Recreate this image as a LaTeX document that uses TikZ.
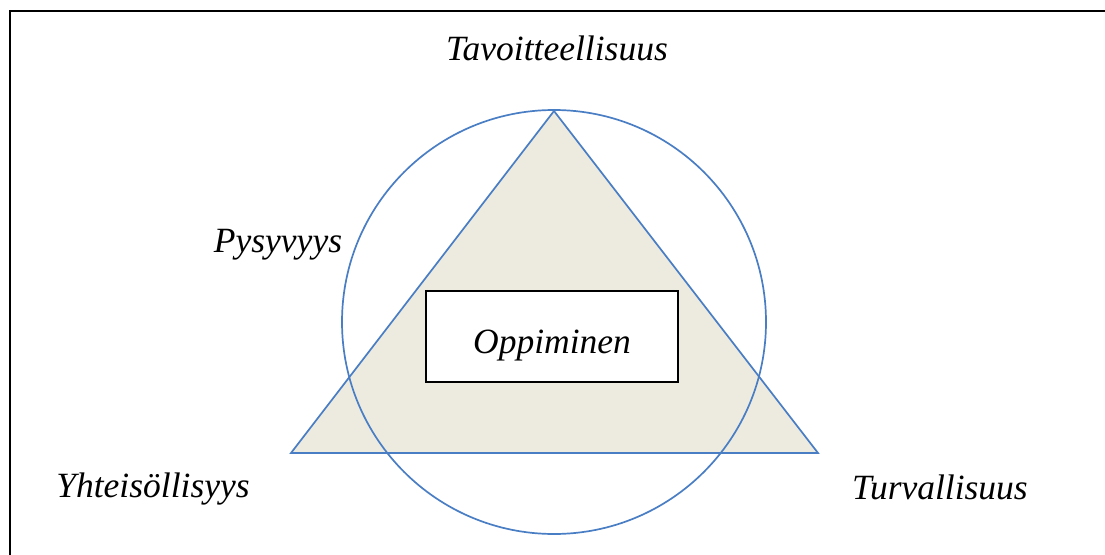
\documentclass[tikz,border=0pt]{standalone}
\usepackage{fontspec}
\setmainfont{Liberation Serif}
\definecolor{edgeblue}{HTML}{4A7EC4}
\definecolor{beige}{HTML}{EDEBE0}
\begin{document}
\begin{tikzpicture}[x=1pt,y=-1pt,
  lbl/.style={font=\fontsize{35.5}{38}\selectfont\itshape, inner sep=0pt, anchor=center},
  shapeline/.style={draw=edgeblue, line width=1.7pt}]
\useasboundingbox (0,0) rectangle (1105,554);
\fill[white] (0,0) rectangle (1105,554);
% frame
\draw[line width=2pt, black] (10,556) -- (10,11) -- (1107,11);
% triangle
\coordinate (apex) at (554,111);
\coordinate (bl) at (291,453);
\coordinate (br) at (818,453);
\fill[beige] (apex) -- (bl) -- (br) -- cycle;
% circle
\node[circle, shapeline, minimum size=424pt, inner sep=0pt] (ring) at (554,322) {};
\draw[shapeline, line join=miter] (apex) -- (bl) -- (br) -- cycle;
% box
\node[draw=black, line width=1.3pt, fill=white, minimum width=252pt, minimum height=91pt, inner sep=0pt] (box) at (552,336.5) {};
\node[lbl] (learn) at ([yshift=-9pt]box.center) {Oppiminen};
% labels
\node[lbl] (top) at (557,48) {Tavoitteellisuus};
\node[lbl] (left) at (278,245) {Pysyvyys};
\node[lbl] (bleft) at (153,489) {Yhteisöllisyys};
\node[lbl] (bright) at (940,487) {Turvallisuus};
\end{tikzpicture}
\end{document}
